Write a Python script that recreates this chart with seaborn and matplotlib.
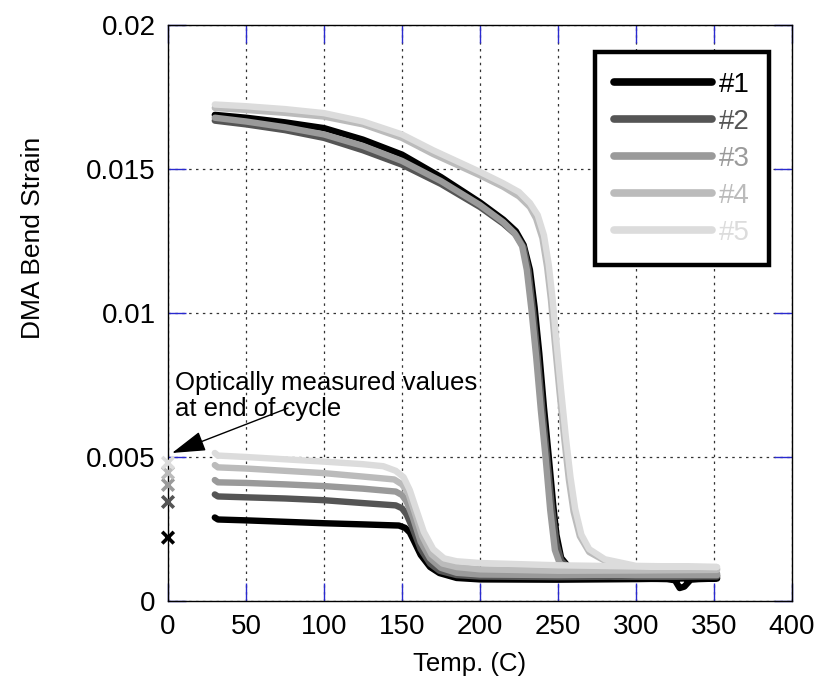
import matplotlib
matplotlib.use("Agg")
import matplotlib.pyplot as plt
import seaborn as sns
import pandas as pd
import numpy as np

# ---------------- data ----------------
samples = ["#1", "#2", "#3", "#4", "#5"]
colors = ["#000000", "#555555", "#9a9a9a", "#bbbbbb", "#dcdcdc"]

# heating branch (temperature ascending)
heat_T_1 = [30, 50, 75, 100, 125, 150, 175, 200, 215, 223, 228, 232, 235, 238, 241, 244, 247, 249, 252, 258, 265, 280, 300, 320, 325, 328, 331, 335, 340, 352]
heat_S_1 = [0.01688, 0.01678, 0.01662, 0.01642, 0.01602, 0.01550, 0.01472, 0.01384, 0.01324, 0.01284, 0.01236, 0.01150, 0.01020, 0.00860, 0.00672, 0.00505, 0.00330, 0.00230, 0.00150, 0.00110, 0.00090, 0.00082, 0.00078, 0.00076, 0.00072, 0.00045, 0.00050, 0.00074, 0.00076, 0.00078]

heat_T_2 = [30, 50, 75, 100, 125, 150, 175, 200, 215, 223, 228, 231, 234, 237, 240, 243, 246, 249, 252, 258, 265, 280, 300, 352]
heat_S_2 = [0.01668, 0.01655, 0.01635, 0.01608, 0.01565, 0.01515, 0.01448, 0.01368, 0.01310, 0.01272, 0.01228, 0.01150, 0.01010, 0.00848, 0.00663, 0.00501, 0.00330, 0.00200, 0.00140, 0.00110, 0.00095, 0.00088, 0.00085, 0.00085]

heat_T_3 = [30, 50, 75, 100, 125, 150, 175, 200, 215, 222, 227, 230, 233, 236, 239, 242, 245, 248, 251, 257, 265, 280, 300, 352]
heat_S_3 = [0.01678, 0.01665, 0.01645, 0.01620, 0.01580, 0.01528, 0.01458, 0.01375, 0.01315, 0.01278, 0.01232, 0.01150, 0.01010, 0.00848, 0.00663, 0.00501, 0.00316, 0.00177, 0.00132, 0.00110, 0.00098, 0.00092, 0.00090, 0.00090]

heat_T_4 = [30, 50, 75, 100, 125, 150, 170, 200, 215, 225, 232, 236, 240, 243, 245.5, 248, 251, 254, 257, 260, 264, 270, 280, 300, 352]
heat_S_4 = [0.01712, 0.01705, 0.01695, 0.01682, 0.01655, 0.01608, 0.01552, 0.01478, 0.01438, 0.01405, 0.01368, 0.01328, 0.01260, 0.01160, 0.01045, 0.00895, 0.00725, 0.00565, 0.00420, 0.00310, 0.00225, 0.00170, 0.00140, 0.00118, 0.00112]

heat_T_5 = [30, 50, 75, 100, 125, 150, 170, 200, 215, 225, 232, 237, 241, 244, 246.5, 249, 252, 255, 258, 261, 265, 270, 280, 300, 352]
heat_S_5 = [0.01724, 0.01718, 0.01708, 0.01694, 0.01665, 0.01620, 0.01565, 0.01490, 0.01450, 0.01420, 0.01382, 0.01340, 0.01270, 0.01170, 0.01050, 0.00900, 0.00730, 0.00570, 0.00430, 0.00320, 0.00230, 0.00180, 0.00145, 0.00122, 0.00118]

# cooling branch (temperature descending)
cool_T_1 = [352, 300, 250, 200, 185, 174, 168, 162, 158, 155, 152, 148, 125, 100, 75, 50, 32, 30]
cool_S_1 = [0.00080, 0.00076, 0.00074, 0.00075, 0.00080, 0.00097, 0.00118, 0.00160, 0.00205, 0.00238, 0.00254, 0.00262, 0.00266, 0.00270, 0.00275, 0.00280, 0.00283, 0.00290]

cool_T_2 = [352, 300, 250, 200, 185, 174, 168, 162, 157, 153, 150, 146, 125, 100, 75, 50, 32, 30]
cool_S_2 = [0.00088, 0.00085, 0.00083, 0.00085, 0.00090, 0.00105, 0.00130, 0.00180, 0.00250, 0.00300, 0.00322, 0.00332, 0.00340, 0.00350, 0.00356, 0.00360, 0.00363, 0.00370]

cool_T_3 = [352, 300, 250, 200, 185, 175, 168, 162, 157, 153, 150, 146, 125, 100, 75, 50, 32, 30]
cool_S_3 = [0.00095, 0.00092, 0.00090, 0.00092, 0.00098, 0.00115, 0.00148, 0.00205, 0.00290, 0.00345, 0.00368, 0.00380, 0.00390, 0.00399, 0.00405, 0.00410, 0.00412, 0.00420]

cool_T_4 = [352, 300, 250, 200, 185, 176, 169, 163, 158, 154, 150, 145, 125, 100, 75, 50, 32, 30]
cool_S_4 = [0.00108, 0.00106, 0.00105, 0.00110, 0.00118, 0.00130, 0.00162, 0.00225, 0.00310, 0.00375, 0.00405, 0.00422, 0.00432, 0.00444, 0.00452, 0.00460, 0.00464, 0.00472]

cool_T_5 = [352, 300, 250, 200, 185, 177, 170, 164, 159, 155, 151, 146, 138, 125, 100, 75, 50, 32, 30]
cool_S_5 = [0.00118, 0.00120, 0.00124, 0.00132, 0.00138, 0.00148, 0.00180, 0.00240, 0.00320, 0.00385, 0.00430, 0.00452, 0.00468, 0.00475, 0.00484, 0.00492, 0.00500, 0.00505, 0.00514]

# optically measured values at end of cycle (T = 0)
optical_T = [0, 0, 0, 0, 0]
optical_S = [0.00220, 0.00344, 0.00403, 0.00445, 0.00480]

x_ticks = [0, 50, 100, 150, 200, 250, 300, 350, 400]
y_ticks = [0, 0.005, 0.01, 0.015, 0.02]
y_tick_labels = ["0", "0.005", "0.01", "0.015", "0.02"]

heat_T = [heat_T_1, heat_T_2, heat_T_3, heat_T_4, heat_T_5]
heat_S = [heat_S_1, heat_S_2, heat_S_3, heat_S_4, heat_S_5]
cool_T = [cool_T_1, cool_T_2, cool_T_3, cool_T_4, cool_T_5]
cool_S = [cool_S_1, cool_S_2, cool_S_3, cool_S_4, cool_S_5]

rows = []
for name, hT, hS, cT, cS in zip(samples, heat_T, heat_S, cool_T, cool_S):
    for t, s in zip(hT + cT, hS + cS):
        rows.append({"sample": name, "T": t, "S": s})
df = pd.DataFrame(rows)
df_opt = pd.DataFrame({"sample": samples, "T": optical_T, "S": optical_S})

# ---------------- plot ----------------
sns.set_theme(style="white")
plt.rcParams["font.family"] = ["Liberation Sans", "DejaVu Sans"]

fig = plt.figure(figsize=(8.30, 6.97), dpi=100)
ax = fig.add_axes([168 / 830, 96 / 697, 624 / 830, 576 / 697])

palette = dict(zip(samples, colors))
sns.lineplot(data=df, x="T", y="S", hue="sample", palette=palette, sort=False,
             estimator=None, linewidth=4.6, ax=ax, legend=True)
sns.scatterplot(data=df_opt, x="T", y="S", hue="sample", palette=palette,
                marker="x", s=70, linewidth=2.6, ax=ax, legend=False,
                clip_on=False, zorder=5)

ax.set_xlim(0, 400)
ax.set_ylim(0, 0.02)
ax.set_xticks(x_ticks)
ax.set_xticklabels([str(v) for v in x_ticks])
ax.set_yticks(y_ticks)
ax.set_yticklabels(y_tick_labels)

ax.grid(True, linestyle=(0, (2.0, 3.5)), color="#333333", linewidth=0.9)
for sp in ax.spines.values():
    sp.set_color("black")
    sp.set_linewidth(1.0)
ax.tick_params(axis="both", which="major", direction="in", length=13,
               color="#2a2ad0", width=1.0, top=True, right=True,
               bottom=True, left=True,
               labelsize=20, labelcolor="black", pad=9)

ax.set_xlabel("Temp. (C)", fontsize=18.5, color="black")
ax.set_ylabel("DMA Bend Strain", fontsize=19, color="black")
ax.xaxis.set_label_coords(0.484, -0.088)
ax.yaxis.set_label_coords(-0.197, 0.63)

# legend
leg = ax.legend(loc="upper right", bbox_to_anchor=(0.963, 0.953),
                borderaxespad=0, fontsize=20, frameon=True, fancybox=False,
                handlelength=3.5, handletextpad=0.25, labelspacing=0.4,
                borderpad=0.7, title=None)
leg.get_frame().set_edgecolor("black")
leg.get_frame().set_linewidth(3.2)
leg.get_frame().set_facecolor("white")
leg.get_frame().set_alpha(1)
for line, c in zip(leg.get_lines(), colors):
    line.set_linewidth(5.5)
    line.set_color(c)
for txt, c in zip(leg.get_texts(), colors):
    txt.set_color(c)

# annotation
ax.text(4.5, 0.00712, "Optically measured values\nat end of cycle", fontsize=18.5,
        ha="left", va="center", color="black", linespacing=1.15)
ax.annotate("", xy=(2.6, 0.00514), xytext=(77, 0.0067),
            arrowprops=dict(arrowstyle="-|>,head_length=0.6,head_width=0.18",
                            mutation_scale=35, color="black", lw=1.0,
                            shrinkA=0, shrinkB=0))

fig.savefig("out.png", dpi=100)
